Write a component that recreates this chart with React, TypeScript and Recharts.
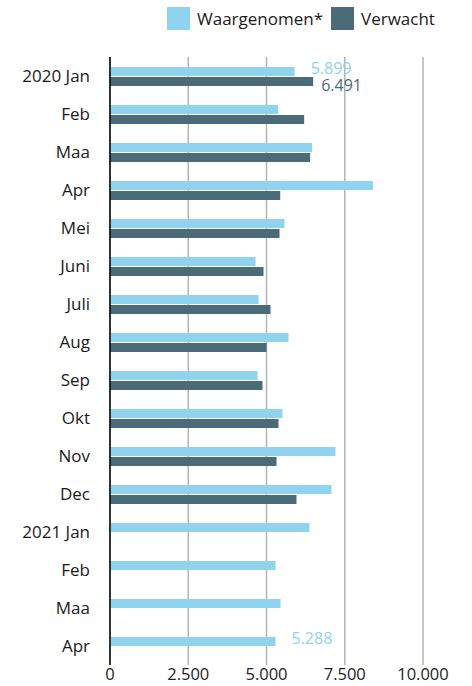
import { BarChart, Bar, XAxis, YAxis, CartesianGrid, LabelList } from 'recharts'

// Monthly counts, 2020 Jan .. 2021 Apr
const months = ['2020 Jan', 'Feb', 'Maa', 'Apr', 'Mei', 'Juni', 'Juli', 'Aug', 'Sep', 'Okt', 'Nov', 'Dec', '2021 Jan', 'Feb', 'Maa', 'Apr']
const observed = [5899, 5374, 6459, 8405, 5575, 4650, 4746, 5703, 4713, 5512, 7203, 7075, 6373, 5290, 5448, 5288]
const expected = [6491, 6203, 6395, 5438, 5416, 4905, 5129, 5001, 4873, 5384, 5320, 5959, null, null, null, null]
const xTicks = [0, 2500, 5000, 7500, 10000]

// which months get a value label
const observedLabelled = [0, 15]
const expectedLabelled = [0]

const LIGHT = '#8fd3ee'
const DARK = '#4b6b79'

const fmt = (v: number) => String(v).replace(/\B(?=(\d{3})+(?!\d))/g, '.')

const data = months.map((month, i) => ({
  month,
  observed: observed[i],
  expected: expected[i],
  observedLabel: observedLabelled.includes(i) ? observed[i] : null,
  expectedLabel: expectedLabelled.includes(i) ? expected[i] : null,
}))

const makeLabel = (color: string, dx: number, dy: number) => (props: any) => {
  const { x, y, width, height, value } = props
  if (value == null) return null
  return (
    <text
      x={Number(x) + Number(width) + dx}
      y={Number(y) + Number(height) / 2 + dy}
      fill={color}
      fontSize={16}
      dominantBaseline="central"
    >
      {fmt(value)}
    </text>
  )
}

function LegendBox() {
  const items = [
    { label: 'Waargenomen*', color: LIGHT },
    { label: 'Verwacht', color: DARK },
  ]
  return (
    <div style={{ position: 'absolute', left: 167, top: 7, display: 'flex', alignItems: 'center', height: 23 }}>
      {items.map((it, i) => (
        <div key={it.label} style={{ display: 'flex', alignItems: 'center', marginLeft: i ? 8 : 0 }}>
          <div style={{ width: 23, height: 23, background: it.color }} />
          <span style={{ marginLeft: 7, fontSize: 17, color: '#1a1a1a', lineHeight: '23px' }}>{it.label}</span>
        </div>
      ))}
    </div>
  )
}

export default function App() {
  return (
    <div style={{ position: 'absolute', left: 0, top: 0, width: 472, height: 686, fontFamily: '"Open Sans", sans-serif', background: '#fff' }}>
      <BarChart
        width={472}
        height={686}
        layout="vertical"
        data={data}
        margin={{ top: 57, right: 49, bottom: 0, left: 0 }}
        barSize={9}
        barGap={1}
      >
        <CartesianGrid horizontal={false} stroke="#b4b4b4" strokeWidth={1.5} />
        <XAxis
          type="number"
          domain={[0, 10000]}
          ticks={xTicks}
          tickFormatter={fmt}
          axisLine={false}
          tickLine={false}
          tickSize={0}
          tickMargin={3}
          height={21}
          tick={{ fontSize: 16.5, fill: '#222' }}
        />
        <YAxis
          type="category"
          dataKey="month"
          width={110}
          interval={0}
          tickLine={false}
          tickSize={0}
          tickMargin={20}
          axisLine={{ stroke: '#000', strokeWidth: 1.5 }}
          tick={{ fontSize: 17, fill: '#1a1a1a' }}
        />
        <Bar dataKey="observed" name="Waargenomen*" fill={LIGHT} isAnimationActive={false}>
          <LabelList dataKey="observedLabel" content={makeLabel(LIGHT, 16, -4)} />
        </Bar>
        <Bar dataKey="expected" name="Verwacht" fill={DARK} isAnimationActive={false}>
          <LabelList dataKey="expectedLabel" content={makeLabel(DARK, 8, 3)} />
        </Bar>
      </BarChart>
      <LegendBox />
    </div>
  )
}
